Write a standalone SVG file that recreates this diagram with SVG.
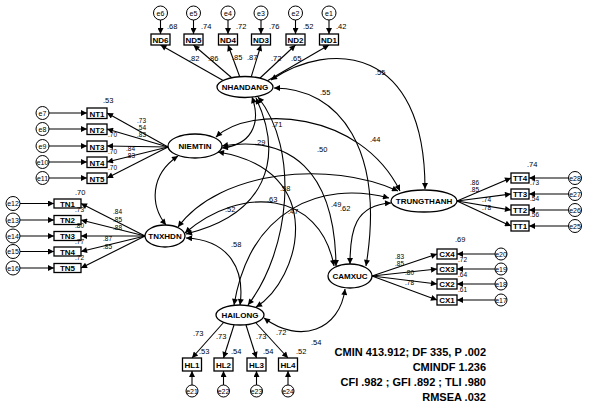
<svg xmlns="http://www.w3.org/2000/svg" width="596" height="410" viewBox="0 0 596 410">
<style>
.lv{fill:#fff;stroke:#000;stroke-width:1.3}
.ov{fill:#fff;stroke:#000;stroke-width:1.3}
.er{fill:#fff;stroke:#000;stroke-width:1}
.ln{fill:none;stroke:#000;stroke-width:1.1}
.cv{fill:none;stroke:#000;stroke-width:1.1;marker-start:url(#ah);marker-end:url(#ah)}
.ar{marker-end:url(#ah)}
text{font-family:"Liberation Sans",Arial,sans-serif;fill:#000}
.lt{font-size:8px;font-weight:bold;text-anchor:middle}
.ot{font-size:8px;font-weight:bold;text-anchor:middle}
.et{font-size:7px;text-anchor:middle}
.n{font-size:7.5px}
.s{font-size:6.5px}
.st{font-size:11px;font-weight:bold;text-anchor:end}
</style>
<defs>
<marker id="ah" viewBox="0 0 10 10" refX="10" refY="5" markerUnits="userSpaceOnUse" markerWidth="8" markerHeight="6" orient="auto-start-reverse">
<path d="M0,0 L10,5 L0,10 z" fill="#000"/>
</marker>
</defs>

<g id="connectors">
<g class="ln ar">
<path d="M160.5,20 V34"/><path d="M193.5,20 V34"/><path d="M228,20 V34"/><path d="M261,20 V34"/><path d="M295.5,20 V34"/><path d="M329,20 V34"/>
<path d="M49,113 H87"/><path d="M49,129 H87"/><path d="M49,146 H87"/><path d="M49,162 H87"/><path d="M49,178 H87"/>
<path d="M20,203.5 H54"/><path d="M20,220 H54"/><path d="M20,236 H54"/><path d="M20,251.5 H54"/><path d="M20,268 H54"/>
<path d="M569,178 H529"/><path d="M569,194 H529"/><path d="M569,210 H529"/><path d="M569,226 H529"/>
<path d="M495,254 H457"/><path d="M495,269 H457"/><path d="M495,284 H457"/><path d="M495,300 H457"/>
<path d="M192,385 V371"/><path d="M223.5,385 V371"/><path d="M256.5,385 V371"/><path d="M288,385 V371"/>
</g>
<g class="ln ar">
<path d="M224,81 L160.5,45"/><path d="M232,78 L193.5,45"/><path d="M240,77.5 L228,45"/><path d="M251,77.5 L261,45"/><path d="M259,79 L295.5,45"/><path d="M267,81 L329,45"/>
<path d="M168,147 L107,113"/><path d="M168,147 L107,129"/><path d="M168,147 L107,146"/><path d="M168,147 L107,162"/><path d="M168,147 L107,178"/>
<path d="M145,236 L81,203.5"/><path d="M145,236 L81,220"/><path d="M145,236 L81,236"/><path d="M145,236 L81,251.5"/><path d="M145,236 L81,268"/>
<path d="M457,201 L511,178"/><path d="M457,201 L511,194"/><path d="M457,201 L511,210"/><path d="M457,201 L511,226"/>
<path d="M372,276 L437,254"/><path d="M372,276 L437,269"/><path d="M372,276 L437,284"/><path d="M372,276 L437,300"/>
<path d="M224,322 L192,358"/><path d="M234,325 L223.5,358"/><path d="M246,325 L256.5,358"/><path d="M256,323 L288,358"/>
</g>
<path class="cv" d="M271,80 C330,40 425,45 425,189"/>
<path class="cv" d="M274,88 C340,88 385,150 366,266"/>
<path class="cv" d="M216,137 C250,105 360,110 400,191"/>
<path class="cv" d="M252,97 C262,125 250,145 222,148"/>
<path class="cv" d="M256,98 C285,160 265,215 186,234"/>
<path class="cv" d="M258,97 C300,150 290,250 248,305"/>
<path class="cv" d="M178,156 C150,175 150,205 166,225"/>
<path class="cv" d="M222,146 C290,135 335,170 336,266"/>
<path class="cv" d="M218,152 C330,170 300,280 256,307"/>
<path class="cv" d="M178,227 C220,170 330,160 398,191"/>
<path class="cv" d="M185,233 C240,185 320,190 334,266"/>
<path class="cv" d="M186,238 C230,240 245,270 240,305"/>
<path class="cv" d="M391,203 C355,205 350,230 350,264"/>
<path class="cv" d="M389,198 C320,180 250,210 234,305"/>
<path class="cv" d="M264,318 C300,345 340,330 345,289"/>
</g>

<g id="NHANDANG"><ellipse class="lv" cx="245" cy="87" rx="28" ry="10.5"/><text class="lt" x="245" y="90">NHANDANG</text></g>
<g id="NIEMTIN"><ellipse class="lv" cx="195" cy="146" rx="27" ry="12"/><text class="lt" x="195" y="149">NIEMTIN</text></g>
<g id="TNXHDN"><ellipse class="lv" cx="165" cy="236" rx="20" ry="11"/><text class="lt" x="165" y="239">TNXHDN</text></g>
<g id="TRUNGTHANH"><ellipse class="lv" cx="424" cy="201" rx="33" ry="11"/><text class="lt" x="424" y="204">TRUNGTHANH</text></g>
<g id="CAMXUC"><ellipse class="lv" cx="350" cy="276" rx="22" ry="12"/><text class="lt" x="350" y="279">CAMXUC</text></g>
<g id="HAILONG"><ellipse class="lv" cx="240" cy="315" rx="24" ry="10"/><text class="lt" x="240" y="318">HAILONG</text></g>

<g id="ND6"><rect class="ov" x="151" y="34" width="19" height="11"/><text class="ot" x="160.5" y="42.5">ND6</text></g>
<g id="ND5"><rect class="ov" x="184" y="34" width="19" height="11"/><text class="ot" x="193.5" y="42.5">ND5</text></g>
<g id="ND4"><rect class="ov" x="218.5" y="34" width="19" height="11"/><text class="ot" x="228" y="42.5">ND4</text></g>
<g id="ND3"><rect class="ov" x="251.5" y="34" width="19" height="11"/><text class="ot" x="261" y="42.5">ND3</text></g>
<g id="ND2"><rect class="ov" x="286" y="34" width="19" height="11"/><text class="ot" x="295.5" y="42.5">ND2</text></g>
<g id="ND1"><rect class="ov" x="319.5" y="34" width="19" height="11"/><text class="ot" x="329" y="42.5">ND1</text></g>
<g id="e6"><circle class="er" cx="160.5" cy="13" r="7"/><text class="et" x="160.5" y="15.5">e6</text></g>
<g id="e5"><circle class="er" cx="193.5" cy="13" r="7"/><text class="et" x="193.5" y="15.5">e5</text></g>
<g id="e4"><circle class="er" cx="228" cy="13" r="7"/><text class="et" x="228" y="15.5">e4</text></g>
<g id="e3"><circle class="er" cx="261" cy="13" r="7"/><text class="et" x="261" y="15.5">e3</text></g>
<g id="e2"><circle class="er" cx="295.5" cy="13" r="7"/><text class="et" x="295.5" y="15.5">e2</text></g>
<g id="e1"><circle class="er" cx="329" cy="13" r="7"/><text class="et" x="329" y="15.5">e1</text></g>

<g id="NT1"><rect class="ov" x="87" y="108" width="20" height="10.5"/><text class="ot" x="97" y="116.5">NT1</text></g>
<g id="NT2"><rect class="ov" x="87" y="124" width="20" height="10.5"/><text class="ot" x="97" y="132.5">NT2</text></g>
<g id="NT3"><rect class="ov" x="87" y="141" width="20" height="10.5"/><text class="ot" x="97" y="149.5">NT3</text></g>
<g id="NT4"><rect class="ov" x="87" y="157" width="20" height="10.5"/><text class="ot" x="97" y="165.5">NT4</text></g>
<g id="NT5"><rect class="ov" x="87" y="173" width="20" height="10.5"/><text class="ot" x="97" y="181.5">NT5</text></g>
<g id="e7"><circle class="er" cx="42.5" cy="113" r="6.5"/><text class="et" x="42.5" y="115.5">e7</text></g>
<g id="e8"><circle class="er" cx="42.5" cy="129" r="6.5"/><text class="et" x="42.5" y="131.5">e8</text></g>
<g id="e9"><circle class="er" cx="42.5" cy="146" r="6.5"/><text class="et" x="42.5" y="148.5">e9</text></g>
<g id="e10"><circle class="er" cx="42.5" cy="162" r="6.5"/><text class="et" x="42.5" y="164.5">e10</text></g>
<g id="e11"><circle class="er" cx="42.5" cy="178" r="6.5"/><text class="et" x="42.5" y="180.5">e11</text></g>

<g id="TN1"><rect class="ov" x="54" y="199" width="27" height="9"/><text class="ot" x="67.5" y="206.5">TN1</text></g>
<g id="TN2"><rect class="ov" x="54" y="215.5" width="27" height="9"/><text class="ot" x="67.5" y="223">TN2</text></g>
<g id="TN3"><rect class="ov" x="54" y="231.5" width="27" height="9"/><text class="ot" x="67.5" y="239">TN3</text></g>
<g id="TN4"><rect class="ov" x="54" y="247" width="27" height="9"/><text class="ot" x="67.5" y="254.5">TN4</text></g>
<g id="TN5"><rect class="ov" x="54" y="263.5" width="27" height="9"/><text class="ot" x="67.5" y="271">TN5</text></g>
<g id="e12"><circle class="er" cx="13" cy="203.5" r="7"/><text class="et" x="13" y="206">e12</text></g>
<g id="e13"><circle class="er" cx="13" cy="220" r="7"/><text class="et" x="13" y="222.5">e13</text></g>
<g id="e14"><circle class="er" cx="13" cy="236" r="7"/><text class="et" x="13" y="238.5">e14</text></g>
<g id="e15"><circle class="er" cx="13" cy="251.5" r="7"/><text class="et" x="13" y="254">e15</text></g>
<g id="e16"><circle class="er" cx="13" cy="268" r="7"/><text class="et" x="13" y="270.5">e16</text></g>

<g id="TT4"><rect class="ov" x="511" y="173" width="18" height="10"/><text class="ot" x="520" y="181">TT4</text></g>
<g id="TT3"><rect class="ov" x="511" y="189" width="18" height="10"/><text class="ot" x="520" y="197">TT3</text></g>
<g id="TT2"><rect class="ov" x="511" y="205" width="18" height="10"/><text class="ot" x="520" y="213">TT2</text></g>
<g id="TT1"><rect class="ov" x="511" y="221" width="18" height="10"/><text class="ot" x="520" y="229">TT1</text></g>
<g id="e28"><circle class="er" cx="575" cy="178" r="6.5"/><text class="et" x="575" y="180.5">e28</text></g>
<g id="e27"><circle class="er" cx="575" cy="194" r="6.5"/><text class="et" x="575" y="196.5">e27</text></g>
<g id="e26"><circle class="er" cx="575" cy="210" r="6.5"/><text class="et" x="575" y="212.5">e26</text></g>
<g id="e25"><circle class="er" cx="575" cy="226" r="6.5"/><text class="et" x="575" y="228.5">e25</text></g>

<g id="CX4"><rect class="ov" x="437" y="249" width="20" height="10"/><text class="ot" x="447" y="257">CX4</text></g>
<g id="CX3"><rect class="ov" x="437" y="264" width="20" height="10"/><text class="ot" x="447" y="272">CX3</text></g>
<g id="CX2"><rect class="ov" x="437" y="279" width="20" height="10"/><text class="ot" x="447" y="287">CX2</text></g>
<g id="CX1"><rect class="ov" x="437" y="295" width="20" height="10"/><text class="ot" x="447" y="303">CX1</text></g>
<g id="e20"><circle class="er" cx="501" cy="254" r="6"/><text class="et" x="501" y="256.5">e20</text></g>
<g id="e19"><circle class="er" cx="501" cy="269" r="6"/><text class="et" x="501" y="271.5">e19</text></g>
<g id="e18"><circle class="er" cx="501" cy="284" r="6"/><text class="et" x="501" y="286.5">e18</text></g>
<g id="e17"><circle class="er" cx="501" cy="300" r="6"/><text class="et" x="501" y="302.5">e17</text></g>

<g id="HL1"><rect class="ov" x="182.5" y="358" width="19" height="13"/><text class="ot" x="192" y="367.5">HL1</text></g>
<g id="HL2"><rect class="ov" x="214" y="358" width="19" height="13"/><text class="ot" x="223.5" y="367.5">HL2</text></g>
<g id="HL3"><rect class="ov" x="247" y="358" width="19" height="13"/><text class="ot" x="256.5" y="367.5">HL3</text></g>
<g id="HL4"><rect class="ov" x="278.5" y="358" width="19" height="13"/><text class="ot" x="288" y="367.5">HL4</text></g>
<g id="e21"><circle class="er" cx="192" cy="391" r="6"/><text class="et" x="192" y="393.5">e21</text></g>
<g id="e22"><circle class="er" cx="223.5" cy="391" r="6"/><text class="et" x="223.5" y="393.5">e22</text></g>
<g id="e23"><circle class="er" cx="256.5" cy="391" r="6"/><text class="et" x="256.5" y="393.5">e23</text></g>
<g id="e24"><circle class="er" cx="288" cy="391" r="6"/><text class="et" x="288" y="393.5">e24</text></g>

<g id="labels" class="n">
<text x="167" y="29">.68</text><text x="201" y="29">.74</text><text x="236" y="29">.72</text><text x="269" y="29">.76</text><text x="303" y="29">.52</text><text x="336" y="29">.42</text>
<text x="189" y="61">.82</text><text x="208" y="61">.86</text><text x="232" y="60">.85</text><text x="247" y="60">.87</text><text x="271" y="61">.72</text><text x="291" y="61">.65</text>
<text x="103" y="103">.53</text>
<text class="s" x="137" y="123">.73</text><text class="s" x="137" y="130">.54</text><text class="s" x="137" y="137">.83</text><text class="s" x="126" y="151">.84</text><text class="s" x="126" y="158">.83</text>
<text class="s" x="108" y="137">.70</text><text class="s" x="108" y="154">.70</text><text class="s" x="108" y="170">.70</text>
<text x="75" y="195">.70</text><text class="s" x="75" y="212">.73</text><text class="s" x="75" y="228">.80</text><text class="s" x="75" y="244">.77</text><text class="s" x="75" y="260">.72</text>
<text class="s" x="113" y="214">.84</text><text class="s" x="113" y="222">.85</text><text class="s" x="113" y="230">.88</text><text class="s" x="103" y="241">.87</text><text class="s" x="103" y="249">.85</text>
<text x="527" y="167">.74</text><text class="s" x="530" y="185">.73</text><text class="s" x="530" y="201">.54</text><text class="s" x="530" y="217">.56</text>
<text class="s" x="470" y="185">.86</text><text class="s" x="470" y="192">.85</text><text class="s" x="482" y="202">.74</text><text class="s" x="482" y="210">.78</text>
<text x="455" y="242">.69</text><text class="s" x="458" y="262">.72</text><text class="s" x="458" y="277">.64</text><text class="s" x="458" y="292">.61</text>
<text class="s" x="395" y="259">.83</text><text class="s" x="395" y="266">.85</text><text class="s" x="405" y="275">.80</text><text class="s" x="405" y="285">.78</text>
<text x="193" y="336">.73</text><text x="216" y="339">.73</text><text x="256" y="339">.73</text><text x="276" y="335">.72</text>
<text x="199" y="354">.53</text><text x="231" y="354">.54</text><text x="263" y="354">.54</text><text x="296" y="354">.52</text>
<text x="311" y="345">.54</text>
<text x="375" y="75">.55</text><text x="320" y="95">.55</text><text x="370" y="142">.44</text><text x="272" y="127">.71</text><text x="255" y="145">.29</text><text x="317" y="152">.50</text>
<text x="225" y="212">.52</text><text x="267" y="202">.63</text><text x="280" y="191">.58</text><text x="288" y="214">.47</text><text x="331" y="207">.49</text><text x="340" y="211">.62</text><text x="231" y="247">.58</text>
</g>

<g id="fit">
<text class="st" x="486" y="356">CMIN 413.912; DF 335, P .002</text>
<text class="st" x="486" y="371">CMINDF 1.236</text>
<text class="st" x="486" y="386">CFI .982 ; GFI .892 ; TLI .980</text>
<text class="st" x="486" y="401">RMSEA .032</text>
</g>
</svg>
